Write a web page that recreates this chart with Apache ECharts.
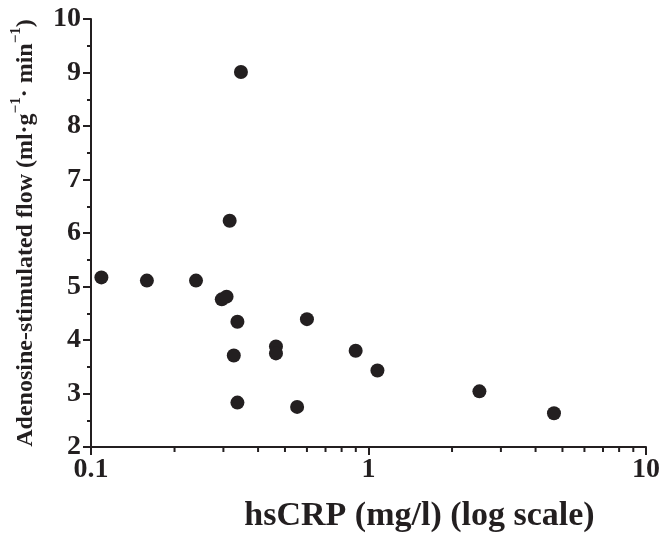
<!DOCTYPE html>
<html>
<head>
<meta charset="utf-8">
<script src="https://cdn.jsdelivr.net/npm/echarts@6/dist/echarts.min.js"></script>
<style>html,body{margin:0;padding:0;background:#fff}#c{width:663px;height:538px}</style>
</head>
<body>
<div id="c"></div>
<script>
// hsCRP (mg/l) values and adenosine-stimulated flow values
const crp = [0.109, 0.159, 0.239, 0.296, 0.308, 0.316, 0.347, 0.337, 0.327, 0.337, 0.464, 0.464, 0.600, 0.553, 0.899, 1.077, 2.51, 4.66];
const flow = [5.17, 5.11, 5.11, 4.76, 4.81, 6.23, 9.01, 4.34, 3.71, 2.83, 3.88, 3.75, 4.39, 2.75, 3.80, 3.43, 3.04, 2.63];
const xMinorTicks = [0.2, 0.3, 0.4, 0.5, 0.6, 0.7, 0.8, 0.9, 2, 3, 4, 5, 6, 7, 8, 9];
const xTickLabels = ['0.1', '1', '10'];
const yTickLabels = ['2', '3', '4', '5', '6', '7', '8', '9', '10'];

const points = crp.map((v, i) => [v, flow[i]]);
const font = '"Liberation Serif", "Times New Roman", serif';
const ink = '#231f20';

const chart = echarts.init(document.getElementById('c'));
chart.setOption({
  animation: false,
  backgroundColor: '#fff',
  grid: { left: 91, right: 13, top: 19, bottom: 87, containLabel: false },
  xAxis: {
    type: 'log', logBase: 10, min: 0.1, max: 10,
    name: 'hsCRP (mg/l) (log scale)',
    nameLocation: 'middle', nameGap: 52,
    nameTextStyle: { fontFamily: font, fontWeight: 'bold', fontSize: 34, color: ink, padding: [0, 0, 0, 102] },
    axisLine: { lineStyle: { color: ink, width: 2 } },
    axisTick: { show: true, inside: false, length: 8, lineStyle: { color: ink, width: 2 } },
    axisLabel: {
      fontFamily: font, fontWeight: 'bold', fontSize: 28, color: ink, margin: 9,
      formatter: v => { const s = xTickLabels.find(t => Math.abs(parseFloat(t) - v) < 1e-9); return s || ''; }
    },
    splitLine: { show: false }
  },
  yAxis: {
    type: 'value', min: 2, max: 10, interval: 1,
    name: '{n|Adenosine-stimulated flow (ml·g}{s|−1}{n|· min}{s|−1}{n|)}',
    nameLocation: 'middle', nameGap: 53, nameRotate: 90,
    nameTextStyle: {
      fontFamily: font, fontWeight: 'bold', fontSize: 24, color: ink,
      rich: {
        n: { fontFamily: font, fontWeight: 'bold', fontSize: 24, color: ink, lineHeight: 29, verticalAlign: 'bottom' },
        s: { fontFamily: font, fontWeight: 'bold', fontSize: 15, color: ink, lineHeight: 29, verticalAlign: 'top' }
      }
    },
    axisLine: { show: true, lineStyle: { color: ink, width: 2 } },
    axisTick: { show: true, inside: false, length: 8, lineStyle: { color: ink, width: 2 } },
    minorTick: { show: true, splitNumber: 2, length: 4, lineStyle: { color: ink, width: 2 } },
    axisLabel: {
      fontFamily: font, fontWeight: 'bold', fontSize: 28, color: ink, margin: 10,
      formatter: v => yTickLabels[Math.round(v) - 2] || ''
    },
    splitLine: { show: false }
  },
  series: [
    {
      type: 'custom',
      silent: true,
      clip: false,
      data: xMinorTicks.map(v => [v, 2]),
      renderItem: (params, api) => {
        const p = api.coord([api.value(0), api.value(1)]);
        return { type: 'line', shape: { x1: p[0], y1: p[1], x2: p[0], y2: p[1] + 5 }, style: { stroke: ink, lineWidth: 2 } };
      },
      z: 1
    },
    {
      type: 'scatter',
      data: points,
      symbol: 'circle',
      symbolSize: 14,
      itemStyle: { color: ink, opacity: 1 },
      z: 3
    }
  ]
});
</script>
</body>
</html>
